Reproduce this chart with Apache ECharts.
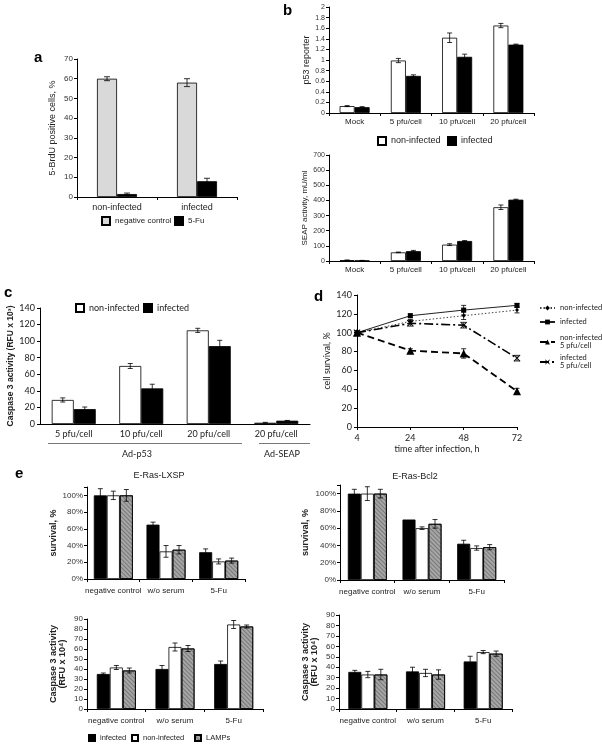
<!DOCTYPE html>
<html><head><meta charset="utf-8">
<script src="https://cdn.jsdelivr.net/npm/echarts@6/dist/echarts.min.js"></script>
<style>html,body{margin:0;padding:0;background:#fff}#c{width:602px;height:745px}</style>
</head><body><div id="c"></div>
<script>
// ---------- Panel a ----------
const aCats = ['non-infected', 'infected'];
const aNegCtrl = [60, 58];
const aNegCtrlErr = [1, 2];
const a5Fu = [1.5, 8];
const a5FuErr = [0.5, 1.5];
// ---------- Panel b ----------
const bCats = ['Mock', '5 pfu/cell', '10 pfu/cell', '20 pfu/cell'];
const bP53Non = [0.13, 0.99, 1.42, 1.65];
const bP53NonErr = [0.01, 0.04, 0.09, 0.04];
const bP53Inf = [0.11, 0.70, 1.06, 1.29];
const bP53InfErr = [0.01, 0.02, 0.05, 0.01];
const bSeapNon = [5, 57, 108, 355];
const bSeapNonErr = [2, 2, 6, 15];
const bSeapInf = [3, 65, 132, 405];
const bSeapInfErr = [1, 5, 3, 3];
// ---------- Panel c ----------
const cCats = ['5 pfu/cell', '10 pfu/cell', '20 pfu/cell', '20 pfu/cell'];
const cNon = [29, 70, 113, 1.5];
const cNonErr = [2.5, 3, 2.5, 0.5];
const cInf = [18, 43, 94, 4];
const cInfErr = [2.5, 5, 7, 0.3];
// ---------- Panel d ----------
const dTimes = ['4', '24', '48', '72'];
const dNon = [100, 112, 118, 124];
const dNonErr = [0, 2, 4, 3];
const dInf = [100, 118, 124, 129];
const dInfErr = [0, 2, 5, 2];
const dNon5 = [100, 81, 78, 38];
const dNon5Err = [0, 2, 5, 3];
const dInf5 = [100, 110, 108, 73];
const dInf5Err = [0, 3, 3, 3];
// ---------- Panel e ----------
const eCats = ['negative control', 'w/o serum', '5-Fu'];
const eLxspSurvInf = [100, 65, 32];
const eLxspSurvInfErr = [8, 3, 4];
const eLxspSurvNon = [100, 33, 21];
const eLxspSurvNonErr = [5, 7, 3];
const eLxspSurvLamp = [100, 35, 22];
const eLxspSurvLampErr = [7, 5, 3];
const eBcl2SurvInf = [100, 70, 42];
const eBcl2SurvInfErr = [5, 0, 4];
const eBcl2SurvNon = [100, 60, 37];
const eBcl2SurvNonErr = [8, 1.5, 2.5];
const eBcl2SurvLamp = [100, 65, 38];
const eBcl2SurvLampErr = [5, 5, 3];
const eLxspCasInf = [35, 40, 45];
const eLxspCasInfErr = [1, 3.5, 3];
const eLxspCasNon = [41.5, 62, 84.5];
const eLxspCasNonErr = [2, 4, 4];
const eLxspCasLamp = [38.5, 60.5, 82.5];
const eLxspCasLampErr = [2.5, 3, 1.5];
const eBcl2CasInf = [35.5, 36, 45.5];
const eBcl2CasInfErr = [1.5, 4, 5];
const eBcl2CasNon = [33, 34.5, 54.5];
const eBcl2CasNonErr = [3, 3.5, 1.5];
const eBcl2CasLamp = [33, 33, 53];
const eBcl2CasLampErr = [5, 4.5, 2.5];

const FONT = '"Liberation Sans", Arial, sans-serif';
const FONT2 = 'Lato, "Open Sans", sans-serif';
const WHITE = '#ffffff', BLACK = '#000000', LGRAY = '#d9d9d9', MGRAY = '#a6a6a6';

function grid(l, t, w, h) { return { left: l, top: t, width: w, height: h, containLabel: false, outerBoundsMode: 'none' }; }
function catX(gi, data, margin, fs, font, extra) {
  return Object.assign({
    type: 'category', gridIndex: gi, data: data,
    axisLine: { show: true, lineStyle: { color: '#000', width: 1 } },
    axisTick: { show: true, length: 3, lineStyle: { color: '#000' } },
    axisLabel: { color: '#222', fontSize: fs, fontFamily: font || FONT, margin: margin, interval: 0, hideOverlap: false },
    splitLine: { show: false }
  }, extra || {});
}
function valY(gi, min, max, interval, fs, name, gap, nameFs, extra) {
  return Object.assign({
    type: 'value', gridIndex: gi, min: min, max: max, interval: interval,
    axisLine: { show: true, lineStyle: { color: '#000', width: 1 } },
    axisTick: { show: true, length: 3, lineStyle: { color: '#000' } },
    axisLabel: { color: '#333', fontSize: fs, fontFamily: FONT, margin: 4 },
    splitLine: { show: false },
    name: name, nameLocation: 'middle', nameGap: gap, nameRotate: 90,
    nameTextStyle: { fontSize: nameFs || 9, fontFamily: FONT, color: '#222' }
  }, extra || {});
}
function bars(gi, name, data, color, width, extraStyle) {
  return {
    type: 'bar', name: name, xAxisIndex: gi, yAxisIndex: gi, data: data,
    barWidth: width, barGap: '0%',
    itemStyle: Object.assign({ color: color, borderColor: '#000', borderWidth: 0.8 }, extraStyle || {}),
    emphasis: { disabled: true }, animation: false, z: 2
  };
}
function errs(gi, vals, es, offset, cap) {
  return {
    type: 'custom', xAxisIndex: gi, yAxisIndex: gi, z: 5, silent: true, animation: false,
    data: vals.map(function (v, i) { return [i, v, es[i]]; }),
    encode: { x: 0, y: 1 },
    renderItem: function (params, api) {
      const i = api.value(0), v = api.value(1), e = api.value(2);
      if (!e) return null;
      const hi = api.coord([i, v + e]), lo = api.coord([i, Math.max(v - e, 0)]);
      const x = hi[0] + offset;
      const st = { stroke: '#000', lineWidth: 0.8 };
      return {
        type: 'group', children: [
          { type: 'line', shape: { x1: x, y1: hi[1], x2: x, y2: lo[1] }, style: st },
          { type: 'line', shape: { x1: x - cap, y1: hi[1], x2: x + cap, y2: hi[1] }, style: st },
          { type: 'line', shape: { x1: x - cap, y1: lo[1], x2: x + cap, y2: lo[1] }, style: st }
        ]
      };
    }
  };
}
function leg(name, left, top, fs, font, extra) {
  return Object.assign({
    data: [name], left: left, top: top, itemWidth: 8, itemHeight: 8, icon: 'rect', itemGap: 0,
    padding: 0, selectedMode: false,
    textStyle: { fontSize: fs, fontFamily: font || FONT, color: '#222' }
  }, extra || {});
}
const lampDecal = { symbol: 'rect', symbolSize: 1, dashArrayX: [1, 0], dashArrayY: [1, 2], rotation: Math.PI / 4, color: 'rgba(0,0,0,0.28)' };

const series = [];
// a
series.push(bars(0, 'negative control', aNegCtrl, LGRAY, 20));
series.push(bars(0, '5-Fu', a5Fu, BLACK, 20));
series.push(errs(0, aNegCtrl, aNegCtrlErr, -10, 3));
series.push(errs(0, a5Fu, a5FuErr, 10, 3));
// b top
series.push(bars(1, 'non-infected', bP53Non, WHITE, 15));
series.push(bars(1, 'infected', bP53Inf, BLACK, 15));
series.push(errs(1, bP53Non, bP53NonErr, -7.5, 2.5));
series.push(errs(1, bP53Inf, bP53InfErr, 7.5, 2.5));
// b bottom
series.push(bars(2, 'non-infected', bSeapNon, WHITE, 15));
series.push(bars(2, 'infected', bSeapInf, BLACK, 15));
series.push(errs(2, bSeapNon, bSeapNonErr, -7.5, 2.5));
series.push(errs(2, bSeapInf, bSeapInfErr, 7.5, 2.5));
// c
series.push(bars(3, 'non-infected', cNon, WHITE, 22));
series.push(bars(3, 'infected', cInf, BLACK, 22));
series.push(errs(3, cNon, cNonErr, -11, 2.5));
series.push(errs(3, cInf, cInfErr, 11, 2.5));
// d
const dMap = { dNon: 'non-infected', dInf: 'infected', dNon5: 'non-infected\n5 pfu/cell', dInf5: 'infected\n5 pfu/cell' };
function dLine(name, data, symbol, size, ltype, lw, color) {
  return {
    type: 'line', name: name, xAxisIndex: 4, yAxisIndex: 4, data: data,
    symbol: symbol, symbolSize: size, showSymbol: true,
    lineStyle: { color: color, width: lw, type: ltype },
    itemStyle: { color: '#000', borderColor: '#000', borderWidth: 0 },
    emphasis: { disabled: true }, animation: false, z: 3
  };
}
const xPath = 'path://M0,1L1,0L5,4L9,0L10,1L6,5L10,9L9,10L5,6L1,10L0,9L4,5Z';
series.push(dLine('dNon', dNon, 'diamond', 4, [1.5, 2], 1, '#444'));
series.push(dLine('dInf', dInf, 'rect', 5, 'solid', 1, '#222'));
series.push(dLine('dNon5', dNon5, 'triangle', 8, [7, 4], 1.8, '#000'));
series.push(dLine('dInf5', dInf5, xPath, 7, [9, 3, 2, 3], 1.6, '#000'));
series.push(errs(4, dNon, dNonErr, 0, 2.5));
series.push(errs(4, dInf, dInfErr, 0, 2.5));
series.push(errs(4, dNon5, dNon5Err, 0, 2.5));
series.push(errs(4, dInf5, dInf5Err, 0, 2.5));
// e panels
function eTriple(gi, inf, infE, non, nonE, lamp, lampE) {
  series.push(bars(gi, 'infected', inf, BLACK, 13));
  series.push(bars(gi, 'non-infected', non, WHITE, 13));
  series.push(bars(gi, 'LAMPs', lamp, MGRAY, 13, { decal: lampDecal }));
  series.push(errs(gi, inf, infE, -13, 2.5));
  series.push(errs(gi, non, nonE, 0, 2.5));
  series.push(errs(gi, lamp, lampE, 13, 2.5));
}
eTriple(5, eLxspSurvInf, eLxspSurvInfErr, eLxspSurvNon, eLxspSurvNonErr, eLxspSurvLamp, eLxspSurvLampErr);
eTriple(6, eBcl2SurvInf, eBcl2SurvInfErr, eBcl2SurvNon, eBcl2SurvNonErr, eBcl2SurvLamp, eBcl2SurvLampErr);
eTriple(7, eLxspCasInf, eLxspCasInfErr, eLxspCasNon, eLxspCasNonErr, eLxspCasLamp, eLxspCasLampErr);
eTriple(8, eBcl2CasInf, eBcl2CasInfErr, eBcl2CasNon, eBcl2CasNonErr, eBcl2CasLamp, eBcl2CasLampErr);

const pctFmt = function (v) { return v > 100 ? '' : v + '%'; };
const boldName = { fontSize: 9, fontFamily: FONT, fontWeight: 'bold', color: '#222' };
const dLegExtra = { icon: null, itemWidth: 15, itemHeight: 6, formatter: function (n) { return dMap[n]; } };
const eLegExtra = { itemWidth: 6, itemHeight: 6 };

const option = {
  animation: false,
  backgroundColor: '#fff',
  grid: [
    grid(77, 59, 160, 138),
    grid(329, 7, 205, 106),
    grid(329, 155, 205, 106),
    grid(40, 308, 270, 116),
    grid(357, 295, 160, 132),
    grid(87, 487, 158, 92),
    grid(340, 485, 164, 95),
    grid(87, 619, 176, 90),
    grid(339, 615, 173, 94)
  ],
  xAxis: [
    catX(0, aCats, 6, 9),
    catX(1, bCats, 5, 8),
    catX(2, bCats, 5, 8),
    catX(3, cCats, 6, 9, FONT2, { axisTick: { show: false } }),
    catX(4, dTimes, 7, 9, FONT2, { boundaryGap: false, name: 'time after infection, h', nameLocation: 'middle', nameGap: 18,
      nameTextStyle: { fontSize: 9, fontFamily: FONT2, color: '#222' } }),
    catX(5, eCats, 8, 8),
    catX(6, eCats, 8, 8),
    catX(7, eCats, 8, 8),
    catX(8, eCats, 8, 8)
  ],
  yAxis: [
    valY(0, 0, 70, 10, 8, '5-BrdU positive cells, %', 20, 9),
    valY(1, 0, 2, 0.2, 7, 'p53 reporter', 18, 9),
    valY(2, 0, 700, 100, 7, 'SEAP activity, mU/ml', 20, 8),
    valY(3, 0, 140, 20, 9, 'Caspase 3 activity (RFU x 10³)', 24, 8.5, {
      axisLabel: { color: '#222', fontSize: 9, fontFamily: FONT2, margin: 5 },
      nameTextStyle: { fontSize: 8.5, fontFamily: FONT, fontWeight: 'bold', color: '#222' } }),
    valY(4, 0, 140, 20, 9, 'cell survival, %', 25, 9, {
      axisLabel: { color: '#222', fontSize: 9, fontFamily: FONT2, margin: 5 },
      nameTextStyle: { fontSize: 9, fontFamily: FONT2, color: '#222' } }),
    valY(5, 0, 110, 20, 8, 'survival, %', 29, 9, {
      axisLabel: { color: '#333', fontSize: 8, fontFamily: FONT, margin: 4, formatter: pctFmt }, nameTextStyle: boldName }),
    valY(6, 0, 110, 20, 8, 'survival, %', 30, 9, {
      axisLabel: { color: '#333', fontSize: 8, fontFamily: FONT, margin: 4, formatter: pctFmt }, nameTextStyle: boldName }),
    valY(7, 0, 90, 10, 8, 'Caspase 3 activity\n(RFU x 10⁴)', 20, 9, { nameTextStyle: boldName }),
    valY(8, 0, 90, 10, 8, 'Caspase 3 activity\n(RFU x 10⁴)', 20, 9, { nameTextStyle: boldName })
  ],
  legend: [
    leg('negative control', 101, 216, 8),
    leg('5-Fu', 174, 216, 8),
    leg('non-infected', 377, 136, 9),
    leg('infected', 447, 136, 9),
    leg('non-infected', 75, 303, 9, FONT2),
    leg('infected', 143, 303, 9, FONT2),
    leg('infected', 88, 734, 7.5, FONT, eLegExtra),
    leg('non-infected', 131, 734, 7.5, FONT, eLegExtra),
    leg('LAMPs', 194, 734, 7.5, FONT, eLegExtra),
    leg('dNon', 539, 304, 7.5, FONT2, dLegExtra),
    leg('dInf', 539, 318, 7.5, FONT2, dLegExtra),
    leg('dNon5', 539, 334, 7.5, FONT2, dLegExtra),
    leg('dInf5', 539, 354, 7.5, FONT2, dLegExtra)
  ],
  graphic: [
    { type: 'text', left: 34, top: 50, style: { text: 'a', font: 'bold 15px ' + FONT, fill: '#000' } },
    { type: 'text', left: 283, top: 3, style: { text: 'b', font: 'bold 15px ' + FONT, fill: '#000' } },
    { type: 'text', left: 4, top: 285, style: { text: 'c', font: 'bold 15px ' + FONT, fill: '#000' } },
    { type: 'text', left: 314, top: 289, style: { text: 'd', font: 'bold 15px ' + FONT, fill: '#000' } },
    { type: 'text', left: 15, top: 466, style: { text: 'e', font: 'bold 15px ' + FONT, fill: '#000' } },
    { type: 'text', x: 159, y: 476, style: { text: 'E-Ras-LXSP', font: '9px ' + FONT, fill: '#222', align: 'center', verticalAlign: 'middle' } },
    { type: 'text', x: 415, y: 477, style: { text: 'E-Ras-Bcl2', font: '9px ' + FONT, fill: '#222', align: 'center', verticalAlign: 'middle' } },
    { type: 'line', shape: { x1: 48, y1: 443.5, x2: 242, y2: 443.5 }, style: { stroke: '#555', lineWidth: 0.8 } },
    { type: 'line', shape: { x1: 259, y1: 443.5, x2: 310, y2: 443.5 }, style: { stroke: '#555', lineWidth: 0.8 } },
    { type: 'text', x: 137, y: 454, style: { text: 'Ad-p53', font: '9px ' + FONT2, fill: '#222', align: 'center', verticalAlign: 'middle' } },
    { type: 'text', x: 282, y: 454, style: { text: 'Ad-SEAP', font: '9px ' + FONT2, fill: '#222', align: 'center', verticalAlign: 'middle' } }
  ],
  series: series
};
const chart = echarts.init(document.getElementById('c'), null, { renderer: 'canvas', width: 602, height: 745 });
chart.setOption(option);
</script>
</body></html>
